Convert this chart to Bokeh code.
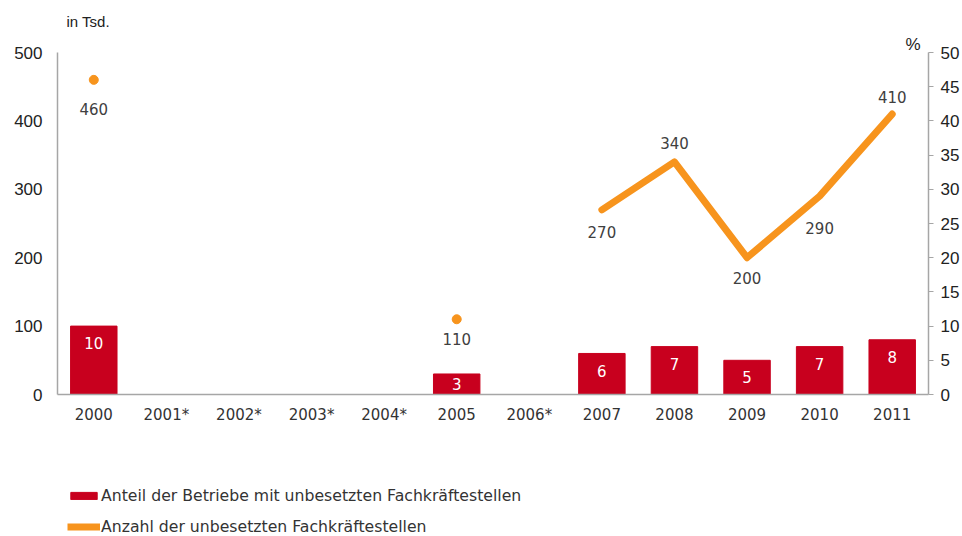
from bokeh.plotting import figure
from bokeh.layouts import column
from bokeh.models import (Range1d, LinearAxis, FactorRange, Legend, LegendItem, Title,
                          ColumnDataSource, FixedTicker)
from bokeh.core.properties import value
from bokeh.embed import file_html
from bokeh.resources import INLINE

# ---------------- data ----------------
years = ["2000", "2001*", "2002*", "2003*", "2004*", "2005", "2006*",
         "2007", "2008", "2009", "2010", "2011"]

bar_years = ["2000", "2005", "2007", "2008", "2009", "2010", "2011"]
share_pct = [10, 3, 6, 7, 5, 7, 8]          # Anteil der Betriebe (%), right axis

dot_years = ["2000", "2005"]
dot_vals = [460, 110]                        # isolated values (Tsd.)

line_years = ["2007", "2008", "2009", "2010", "2011"]
line_vals = [270, 340, 200, 290, 410]        # Anzahl (Tsd.), left axis

left_ticks = [0, 100, 200, 300, 400, 500]
right_ticks = [0, 5, 10, 15, 20, 25, 30, 35, 40, 45, 50]

bar_label = "Anteil der Betriebe mit unbesetzten Fachkräftestellen"
line_label = "Anzahl der unbesetzten Fachkräftestellen"
left_unit = "in Tsd."
right_unit = "%"

# ---------------- styles ----------------
RED = "#C8001E"
ORANGE = "#F7941D"
GREY_AXIS = "#A6A6A6"
TXT = "#222222"
LBL = "#404040"
SANS = "Liberation Sans"
VERD = "DejaVu Sans"
W = 962

# label offsets in pixels (layout only): positive = below point
num_dy = {"2000": 29, "2005": 20, "2007": 22, "2008": -19, "2009": 20, "2010": 32, "2011": -17}

p = figure(x_range=FactorRange(factors=years, range_padding=0),
           y_range=Range1d(0, 500),
           width=W, height=440, output_backend="svg", toolbar_location=None,
           min_border_left=57, min_border_right=31, min_border_top=52, min_border_bottom=46)
p.outline_line_color = None
p.xgrid.visible = False
p.ygrid.visible = False
p.background_fill_color = "white"
p.border_fill_color = "white"

# unit titles above the plot
p.title.text = left_unit
p.title.align = "left"
p.title.offset = 9
p.title.standoff = 10
p.title.text_font = SANS
p.title.text_font_size = "15px"
p.title.text_font_style = "normal"
p.title.text_color = TXT
p.add_layout(Title(text=right_unit, align="right", offset=8, standoff=-3,
                   text_font=SANS, text_font_size="17px", text_font_style="normal",
                   text_color=TXT), "above")

# left axis
la = p.yaxis[0]
la.ticker = FixedTicker(ticks=left_ticks)
la.major_tick_out = 0
la.major_tick_in = 0
la.minor_tick_out = 0
la.minor_tick_in = 0
la.axis_line_color = GREY_AXIS
la.axis_line_width = 1.5
la.major_label_standoff = 15
la.major_label_text_font = SANS
la.major_label_text_font_size = "17px"
la.major_label_text_color = TXT

# bottom axis
xa = p.xaxis[0]
xa.major_tick_out = 0
xa.major_tick_in = 0
xa.axis_line_color = GREY_AXIS
xa.axis_line_width = 1.5
xa.major_label_standoff = 11
xa.major_label_text_font = VERD
xa.major_label_text_font_size = "15px"
xa.major_label_text_color = "#333333"

# right axis
p.extra_y_ranges = {"pct": Range1d(0, 50)}
ra = LinearAxis(y_range_name="pct", ticker=FixedTicker(ticks=right_ticks))
ra.major_tick_out = 5
ra.major_tick_in = 0
ra.minor_tick_out = 0
ra.minor_tick_in = 0
ra.axis_line_color = GREY_AXIS
ra.major_tick_line_color = GREY_AXIS
ra.axis_line_width = 1.5
ra.major_label_standoff = 7
ra.major_label_text_font = SANS
ra.major_label_text_font_size = "17px"
ra.major_label_text_color = TXT
p.add_layout(ra, "right")

# bars
bars = p.vbar(x=bar_years, top=share_pct, width=0.64, y_range_name="pct",
              fill_color=RED, line_color=RED)

bar_src = ColumnDataSource(dict(
    x=bar_years,
    y=[max(v - 2.5, v / 2) for v in share_pct],
    t=[str(v) for v in share_pct]))
p.text(x="x", y="y", text="t", source=bar_src, y_range_name="pct",
       text_align="center", text_baseline="middle", text_color="white",
       text_font=value(VERD), text_font_size="15px")

# line + dots
line = p.line(line_years, line_vals, line_width=7, line_color=ORANGE,
              line_cap="round", line_join="round")
dots = p.scatter(dot_years, dot_vals, size=9, fill_color=ORANGE, line_color=ORANGE)

all_x = dot_years + line_years
all_y = dot_vals + line_vals
num_src = ColumnDataSource(dict(
    x=all_x, y=all_y, t=[str(v) for v in all_y],
    dy=[num_dy[k] for k in all_x]))
p.text(x="x", y="y", text="t", y_offset="dy", source=num_src,
       text_align="center", text_baseline="middle", text_color=LBL,
       text_font=value(VERD), text_font_size="15px")

# ---------------- legend panel ----------------
# The legend strip re-uses the same series, but its visible window (y 1000..1001)
# lies above all values, so only the legend swatches appear.
lg = figure(width=W, height=96, x_range=FactorRange(factors=years, range_padding=0),
            y_range=Range1d(1000, 1001),
            output_backend="svg", toolbar_location=None,
            x_axis_type=None, y_axis_type=None, min_border=0)
lg.outline_line_color = None
lg.xgrid.visible = False
lg.ygrid.visible = False
lg_bar = lg.vbar(x=bar_years, top=share_pct, width=0.64, fill_color=RED, line_color=RED)
lg_line = lg.line(line_years, line_vals, line_width=7, line_color=ORANGE, line_cap="butt")

legend = Legend(items=[LegendItem(label=bar_label, renderers=[lg_bar]),
                       LegendItem(label=line_label, renderers=[lg_line])],
                location=(10, 0), orientation="vertical",
                padding=0, margin=0, spacing=11,
                glyph_width=33, glyph_height=9, label_height=20, label_standoff=1,
                border_line_color=None, background_fill_alpha=0,
                label_text_font=VERD, label_text_font_size="15.7px",
                label_text_color="#333333")
lg.add_layout(legend, "center")

layout = column(p, lg, spacing=0)
open("out.html", "w").write(file_html(layout, INLINE))
